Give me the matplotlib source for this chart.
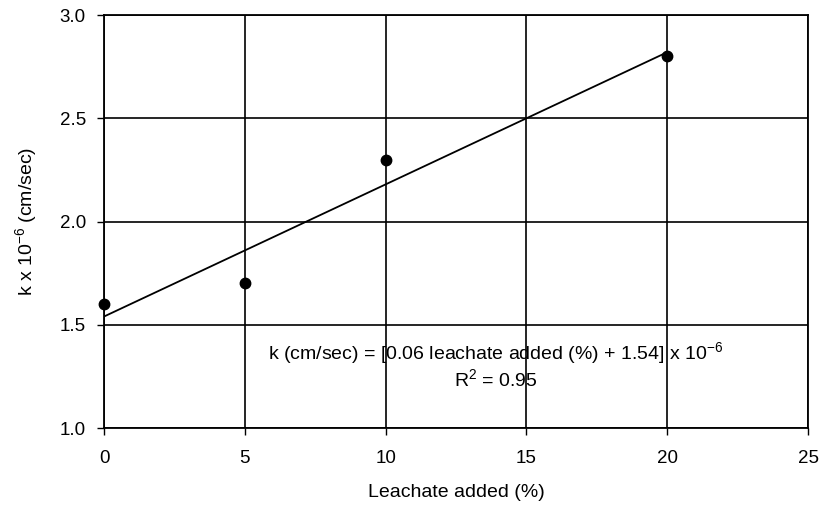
import numpy as np
import matplotlib
matplotlib.use('Agg')
from matplotlib import pyplot as plt

plt.rcParams['font.family'] = ['Liberation Sans', 'DejaVu Sans']

#  measured values
leachate = [0, 5, 10, 20]
k_vals = [1.6, 1.7, 2.3, 2.8]

x_ticks = [0, 5, 10, 15, 20, 25]
y_ticks = [1.0, 1.5, 2.0, 2.5, 3.0]

#  least squares fit through the points
slope, intercept = np.polyfit(leachate, k_vals, 1)
fit_x = np.array([min(leachate), max(leachate)])

fig = plt.figure(figsize=(8.21, 5.12), dpi=100)
ax = fig.add_axes([0.1267, 0.164, 0.8575, 0.8066])

ax.plot(fit_x, slope * fit_x + intercept, color='black', linewidth=1.3, zorder=3)
ax.plot(leachate, k_vals, 'o', color='black', markersize=7.5, zorder=4, clip_on=False)

ax.set_xlim(0, 25)
ax.set_ylim(1.0, 3.0)
ax.set_xticks(x_ticks)
ax.set_yticks(y_ticks)
ax.set_yticklabels(['%.1f' % y for y in y_ticks])
ax.grid(True, color='black', linewidth=1.2)
ax.set_axisbelow(True)
for s in ax.spines.values():
    s.set_linewidth(1.3)
ax.tick_params(axis='y', direction='out', length=5, width=1, labelsize=13.5, pad=8)
ax.tick_params(axis='x', direction='out', length=5, width=1, labelsize=13.5, pad=11)

ax.set_xlabel('Leachate added (%)', fontsize=14, labelpad=12)
ax.set_ylabel(r'k x 10$^{\mathregular{-6}}$ (cm/sec)', fontsize=14, labelpad=14)

ax.text(13.9, 1.33, r'k (cm/sec) = [0.06 leachate added (%) + 1.54] x 10$^{\mathregular{-6}}$',
        ha='center', va='baseline', fontsize=14)
ax.text(13.9, 1.20, 'R$^{\\mathregular{2}}$ = 0.95', ha='center', va='baseline', fontsize=14)

fig.savefig('out.png', dpi=100)
